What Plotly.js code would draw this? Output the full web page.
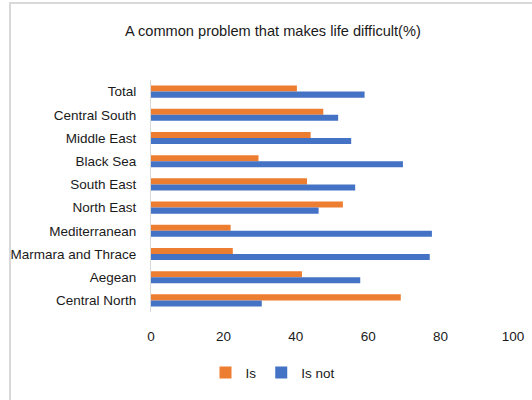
<!DOCTYPE html>
<html>
<head>
<meta charset="utf-8">
<script src="https://cdn.plot.ly/plotly-3.0.1.min.js"></script>
<style>
  html, body { margin: 0; padding: 0; background: #fff; }
  #wrap { position: relative; width: 532px; height: 400px; overflow: hidden; }
  #chart { position: absolute; left: 0; top: 0; width: 532px; height: 400px; }
  #frame { position: absolute; left: 9px; top: 2px; width: 600px; height: 500px;
           border-left: 2px solid #d9d9d9; border-top: 2px solid #d9d9d9; pointer-events: none; }
</style>
</head>
<body>
<div id="wrap">
  <div id="chart"></div>
  <div id="frame"></div>
</div>
<script>
const categories = ["Total", "Central South", "Middle East", "Black Sea", "South East",
  "North East", "Mediterranean", "Marmara and Thrace", "Aegean", "Central North"];
const isValues    = [40.3, 47.6, 44.1, 29.7, 43.1, 53.0, 22.0, 22.6, 41.7, 69.0];
const isNotValues = [59.0, 51.7, 55.3, 69.6, 56.4, 46.3, 77.6, 77.0, 57.8, 30.6];
const xTicks = [0, 20, 40, 60, 80, 100];
const chartTitle = "A common problem that makes life difficult(%)";

const family = "'Liberation Sans', Arial, sans-serif";
const font = { family: family, size: 13.5, color: "#1a1a1a" };

const traces = [
  { type: "bar", orientation: "h", name: "Is", y: categories, x: isValues,
    marker: { color: "#ED7D31" } },
  { type: "bar", orientation: "h", name: "Is not", y: categories, x: isNotValues,
    marker: { color: "#4472C4" } }
];

const layout = {
  width: 532, height: 400,
  margin: { l: 151, r: 19, t: 80, b: 85, pad: 0 },
  paper_bgcolor: "#fff", plot_bgcolor: "#fff",
  font: font,
  title: { text: chartTitle, x: 0.513, xanchor: "center", y: 0.922, yanchor: "middle",
           font: { family: family, size: 14.6, color: "#1a1a1a" } },
  barmode: "group",
  bargap: 0.48,
  bargroupgap: 0,
  xaxis: { range: [0, 100], tickvals: xTicks, ticktext: xTicks.map(String),
           showgrid: false, zeroline: false, showline: false, ticks: "",
           ticklabelstandoff: 14, tickfont: font, fixedrange: true },
  yaxis: { type: "category", autorange: "reversed", showgrid: false, zeroline: false,
           showline: true, linecolor: "#d9d9d9", linewidth: 1, ticks: "",
           ticklabelstandoff: 11, tickfont: font, fixedrange: true },
  legend: { orientation: "h", x: 0.337, xanchor: "center", y: -0.195, yanchor: "top",
            font: font, itemwidth: 30, traceorder: "normal" },
  showlegend: true
};

Plotly.newPlot("chart", traces, layout, { displayModeBar: false, staticPlot: true });
</script>
</body>
</html>
